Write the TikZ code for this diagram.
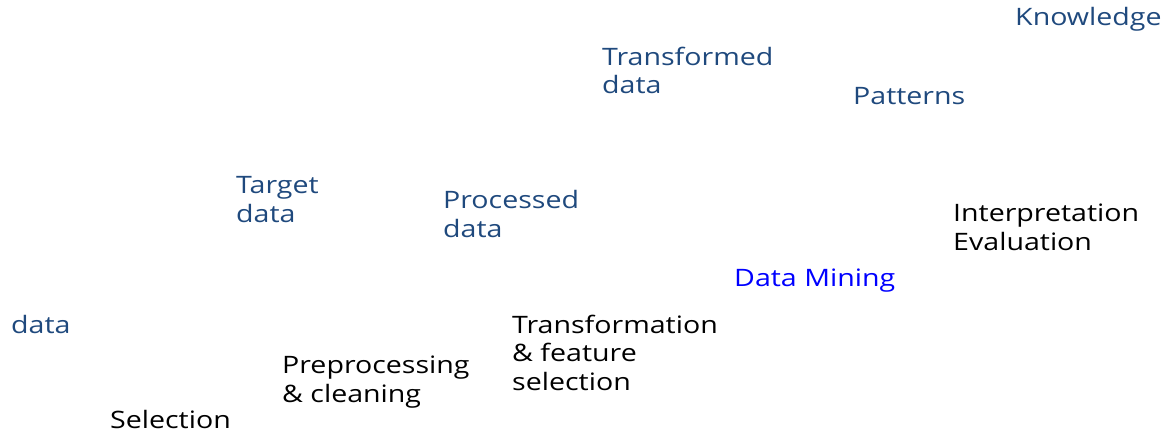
\documentclass[tikz,border=0pt]{standalone}
\usepackage{fontspec}
\setmainfont{Open Sans}[FakeStretch=1.19]
\definecolor{datablue}{RGB}{31, 73, 125}
\definecolor{stepblack}{RGB}{0, 0, 0}
\definecolor{minblue}{RGB}{0, 0, 255}
\usepackage{tikz}
\usetikzlibrary{positioning}

\begin{document}
\begin{tikzpicture}[
  x=1pt, y=-1pt,
  lbl/.style={inner sep=0pt, anchor=base west, align=left, font=\fontsize{24}{28.5}\selectfont},
  stage/.style={lbl, datablue},
  stepname/.style={lbl, stepblack}
]
  \useasboundingbox (0,0) rectangle (1169,433);
  % data states (multi-line nodes sit on their last baseline)
  \node[stage] (raw) at (11, 333) {data};
  \node[stage] (target) at (236, 222) {Target\\data};
  \node[stage] (processed) at (443, 237) {Processed\\data};
  \node[stage] (transformed) at (602, 94) {Transformed\\data};
  \node[stage] (patterns) at (853, 105) {Patterns};
  \node[stage] (knowledge) at (1015, 26) {Knowledge};
  % steps between them
  \node[stepname] (selection) at (110, 428) {Selection};
  \node[stepname] (preproc) at (282, 402) {Preprocessing\\\& cleaning};
  \node[stepname] (transf) at (512, 390) {Transformation\\\& feature\\selection};
  \node[lbl, minblue] (mining) at (734, 286) {Data Mining};
  \node[stepname] (interp) at (953, 250) {Interpretation\\Evaluation};
\end{tikzpicture}
\end{document}
